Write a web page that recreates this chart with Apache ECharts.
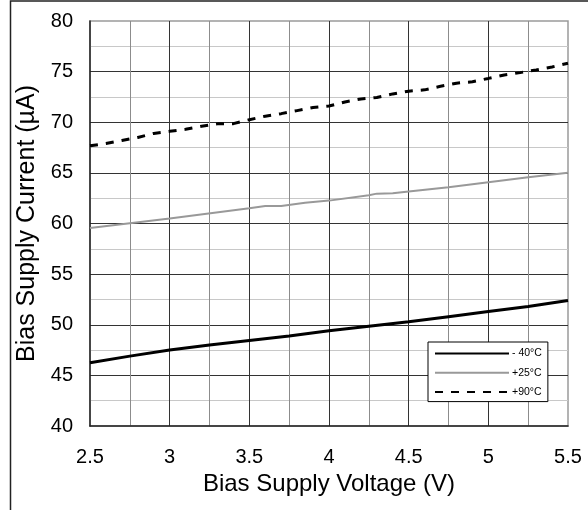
<!DOCTYPE html>
<html>
<head>
<meta charset="utf-8">
<script src="https://cdn.jsdelivr.net/npm/echarts@6/dist/echarts.min.js"></script>
<style>
html,body{margin:0;padding:0;background:#fff;}
#chart{width:588px;height:510px;}
</style>
</head>
<body>
<div id="chart"></div>
<script>
// ---- data ----
var seriesNames = ['- 40°C', '+25°C', '+90°C'];
var xTicks = [2.5, 3, 3.5, 4, 4.5, 5, 5.5];
var yTicks = [40, 45, 50, 55, 60, 65, 70, 75, 80];

var voltsMinus40 = [2.5, 2.75, 3.0, 3.25, 3.5, 3.75, 4.0, 4.25, 4.5, 4.75, 5.0, 5.25, 5.5];
var currentMinus40 = [46.25, 46.9, 47.5, 48.0, 48.45, 48.9, 49.4, 49.85, 50.3, 50.8, 51.3, 51.8, 52.4];

var volts25 = [2.5, 3.0, 3.5, 3.6, 3.7, 3.85, 4.0, 4.25, 4.3, 4.4, 4.5, 4.75, 5.0, 5.25, 5.5];
var current25 = [59.55, 60.5, 61.5, 61.73, 61.73, 62.05, 62.26, 62.8, 62.95, 62.98, 63.16, 63.57, 64.07, 64.56, 65.02];

var volts90 = [2.5, 2.6, 2.7, 2.8, 2.9, 3.0, 3.1, 3.2, 3.3, 3.4, 3.5, 3.6, 3.7, 3.8, 3.9, 4.0,
               4.1, 4.2, 4.3, 4.4, 4.5, 4.6, 4.7, 4.8, 4.9, 5.0, 5.1, 5.2, 5.3, 5.4, 5.5];
var current90 = [67.67, 67.9, 68.2, 68.5, 68.9, 69.1, 69.3, 69.6, 69.84, 69.86, 70.25, 70.6, 70.85, 71.15, 71.45, 71.6,
                 72.0, 72.3, 72.45, 72.8, 73.07, 73.2, 73.55, 73.86, 74.0, 74.33, 74.67, 74.9, 75.17, 75.46, 75.83];

function pairs(xs, ys) { return xs.map(function (x, i) { return [x, ys[i]]; }); }

var FONT = '"Liberation Sans", Arial, sans-serif';
var chart = echarts.init(document.getElementById('chart'), null, {renderer: 'canvas'});
chart.setOption({
  backgroundColor: '#fff',
  animation: false,
  textStyle: {fontFamily: FONT, color: '#000'},
  grid: {left: 90, top: 21, right: 20, bottom: 84, show: true, borderColor: '#9a9a9a', borderWidth: 1.5, backgroundColor: 'transparent'},
  xAxis: {
    type: 'value', min: xTicks[0], max: xTicks[xTicks.length - 1], interval: 0.5,
    name: 'Bias Supply Voltage (V)', nameLocation: 'middle', nameGap: 43,
    nameTextStyle: {fontSize: 24, color: '#000', fontFamily: FONT},
    axisLine: {show: true, lineStyle: {color: '#222', width: 1.5}},
    axisTick: {show: false},
    axisLabel: {fontSize: 20, color: '#000', margin: 21, fontFamily: FONT,
      formatter: function (v) { return String(v); }},
    splitLine: {show: true, showMinLine: false, showMaxLine: false, lineStyle: {color: '#333', width: 1}},
    minorTick: {show: false, splitNumber: 2},
    minorSplitLine: {show: true, lineStyle: {color: '#8c8c8c', width: 1}}
  },
  yAxis: {
    type: 'value', min: yTicks[0], max: yTicks[yTicks.length - 1], interval: 5,
    name: 'Bias Supply Current (µA)', nameLocation: 'middle', nameGap: 47,
    nameTextStyle: {fontSize: 25, color: '#000', fontFamily: FONT},
    axisLine: {show: true, lineStyle: {color: '#222', width: 1.5}},
    axisTick: {show: false},
    axisLabel: {fontSize: 20, color: '#000', margin: 17, fontFamily: FONT},
    splitLine: {show: true, showMinLine: false, showMaxLine: false, lineStyle: {color: '#333', width: 1}},
    minorTick: {show: false, splitNumber: 2},
    minorSplitLine: {show: true, lineStyle: {color: '#c8c8c8', width: 1}}
  },
  legend: {
    left: 428, top: 342, orient: 'vertical',
    padding: [6, 6, 4, 6], itemGap: 8, itemWidth: 74, itemHeight: 14,
    backgroundColor: '#fff', borderColor: '#000', borderWidth: 1,
    itemStyle: {opacity: 0},
    textStyle: {fontSize: 10.5, color: '#000', fontFamily: FONT, padding: [0, 0, 0, -2]},
    data: seriesNames
  },
  graphic: [
    {type: 'rect', silent: true, z: 100, shape: {x: 10.5, y: 1, width: 640, height: 600},
     style: {fill: 'none', stroke: '#222', lineWidth: 1.5}}
  ],
  series: [
    {name: seriesNames[0], type: 'line', symbol: 'none', data: pairs(voltsMinus40, currentMinus40),
     lineStyle: {color: '#000', width: 3}, itemStyle: {color: '#000'}, z: 5},
    {name: seriesNames[1], type: 'line', symbol: 'none', data: pairs(volts25, current25),
     lineStyle: {color: '#999', width: 2}, itemStyle: {color: '#999'}, z: 4},
    {name: seriesNames[2], type: 'line', symbol: 'none', data: pairs(volts90, current90),
     lineStyle: {color: '#000', width: 3, type: [8, 8]}, itemStyle: {color: '#000'}, z: 5}
  ]
});
</script>
</body>
</html>
